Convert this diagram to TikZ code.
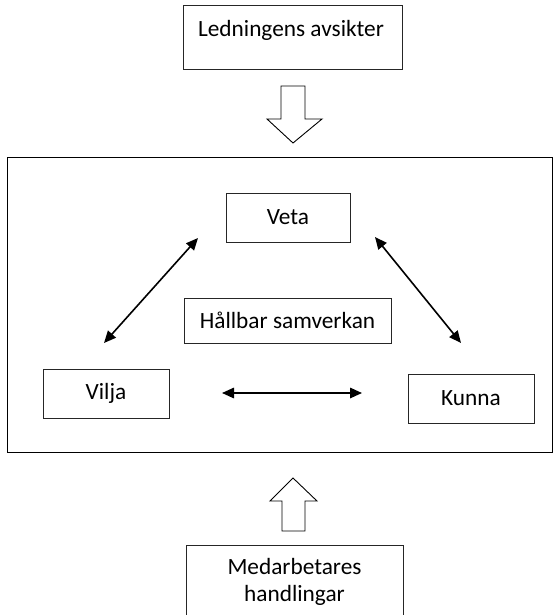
\documentclass[tikz,border=0pt]{standalone}
\usepackage{fontspec}
\setmainfont{Carlito}
\usetikzlibrary{arrows.meta}
\begin{document}
\begin{tikzpicture}[x=1pt,y=-1pt,
  box/.style={draw=black!85,line width=0.9pt,rectangle,inner sep=0pt,font=\fontsize{23.3}{27}\selectfont},
  lbl/.style={inner sep=0pt,font=\fontsize{23.3}{27}\selectfont},
  dbl/.style={line width=1.6pt,{Triangle[length=12pt,width=10.5pt]}-{Triangle[length=12pt,width=10.5pt]}},
  block/.style={draw=black,line width=0.9pt,fill=white,line join=miter}]
\useasboundingbox (0,0) rectangle (559,615);
\clip (0,0) rectangle (559,615);
% top box
\node[box,minimum width=219pt,minimum height=64pt] (top) at (292.5,37) {};
\node[lbl,anchor=center] (toptext) at (291,30) {Ledningens avsikter};
% down block arrow
\draw[block] (281,86) -- (305,86) -- (305,119) -- (322,119) -- (293,143) -- (267,119) -- (281,119) -- cycle;
% frame
\node[draw=black,line width=0.9pt,rectangle,inner sep=0pt,minimum width=545pt,minimum height=295pt] (frame) at (279.5,304.5) {};
% inner boxes
\node[box,minimum width=124pt,minimum height=49pt] (veta) at (288,217.5) {Veta};
\node[box,minimum width=207pt,minimum height=45pt] (hall) at (287.5,320.5) {Hållbar samverkan};
\node[box,minimum width=126pt,minimum height=49pt] (vilja) at (106,393.5) {Vilja};
\node[box,minimum width=126pt,minimum height=49pt] (kunna) at (471,398.5) {Kunna};
% arrow end points
\coordinate (a1) at (104,343);
\coordinate (a2) at (198,238);
\coordinate (b1) at (375,237);
\coordinate (b2) at (461,343);
\coordinate (c1) at (222,393);
\coordinate (c2) at (362,393);
\draw[dbl] (a1) -- (a2);
\draw[dbl] (b1) -- (b2);
\draw[dbl] (c1) -- (c2);
% up block arrow
\draw[block] (293,478) -- (317,501) -- (305,501) -- (305,531) -- (282,531) -- (282,501) -- (270,501) -- cycle;
% bottom box (extends beyond page)
\node[box,minimum width=217pt,minimum height=100pt] (bottom) at (294.5,595) {};
\node[lbl,align=center] (bottomtext) at (294.5,581.5) {Medarbetares\\handlingar};
\end{tikzpicture}
\end{document}
